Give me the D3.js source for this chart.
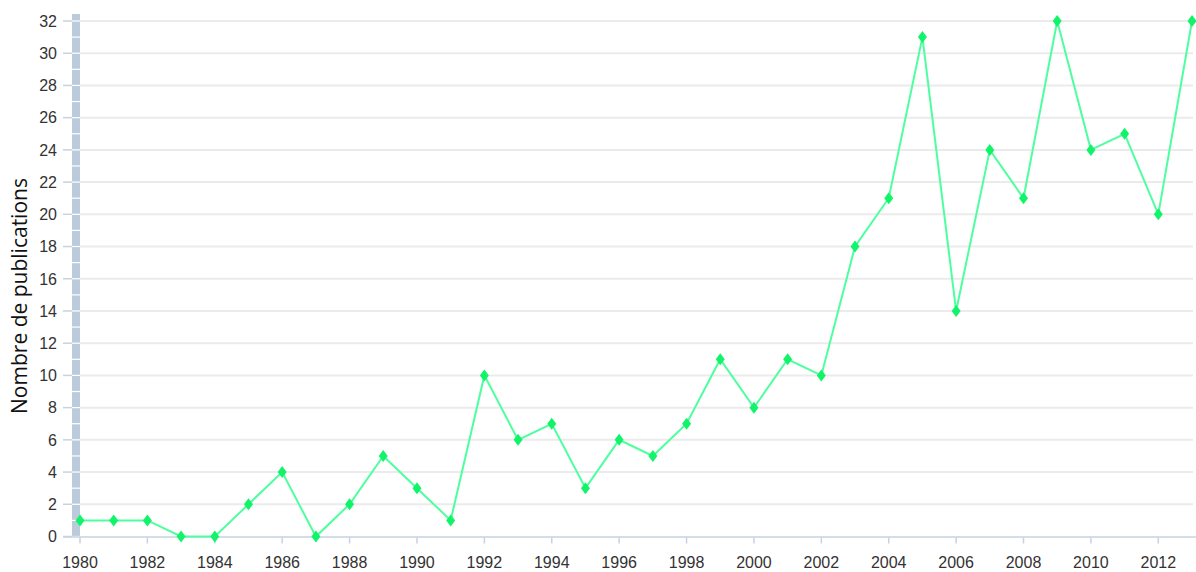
<!DOCTYPE html>
<html lang="fr">
<head>
<meta charset="utf-8">
<script src="https://d3js.org/d3.v7.min.js"></script>
<style>
  body { margin: 0; background: #fff; }
  .tick-label { font-family: "Liberation Sans Narrow", "Arial Narrow", sans-serif; font-size: 16px; fill: #333; }
</style>
</head>
<body>
<script>
    var w = 1196, h = 572;

    var years = d3.range(1980, 2014);
    var publications = [1, 1, 1, 0, 0, 2, 4, 0, 2, 5, 3, 1, 10, 6, 7, 3, 6, 5, 7, 11,
                        8, 11, 10, 18, 21, 31, 14, 24, 21, 32, 24, 25, 20, 32];
    var yTicks = d3.range(0, 33, 2);
    var xTicks = d3.range(1980, 2013, 2);
    var yTitle = 'Nombre de publications';

    var data = years.map(function(y, i) { return {year: y, value: publications[i]}; });

    var x = d3.scaleLinear().domain([1980, 2013]).range([80, 1192]);
    var y = d3.scaleLinear().domain([0, 32]).range([536.5, 21]);

    var svg = d3.select('body').append('svg').attr('width', w).attr('height', h);

    // gridlines
    svg.append('g').selectAll('line')
        .data(yTicks.filter(function(d) { return d > 0; }))
        .enter().append('line')
        .attr('x1', 80).attr('x2', 1193)
        .attr('y1', function(d) { return y(d); })
        .attr('y2', function(d) { return y(d); })
        .attr('stroke', '#ebebeb')
        .attr('stroke-width', 2);

    // thick segmented left axis bar
    svg.append('rect')
        .attr('x', 72).attr('y', y(32) - 7)
        .attr('width', 8).attr('height', y(0) - y(32) + 7)
        .attr('fill', '#bccbdc');
    svg.append('g').selectAll('line')
        .data(d3.range(0, 33))
        .enter().append('line')
        .attr('x1', 72).attr('x2', 80)
        .attr('y1', function(d) { return y(d); })
        .attr('y2', function(d) { return y(d); })
        .attr('stroke', '#fff')
        .attr('stroke-width', 1.2);

    // y axis ticks and labels
    var yAxis = svg.append('g');
    yAxis.selectAll('line')
        .data(yTicks)
        .enter().append('line')
        .attr('x1', 63).attr('x2', 72)
        .attr('y1', function(d) { return y(d); })
        .attr('y2', function(d) { return y(d); })
        .attr('stroke', '#c6d3e2')
        .attr('stroke-width', 1.5);
    yAxis.selectAll('text')
        .data(yTicks)
        .enter().append('text')
        .attr('class', 'tick-label')
        .attr('x', 57)
        .attr('y', function(d) { return y(d); })
        .attr('dy', '.36em')
        .attr('text-anchor', 'end')
        .text(function(d) { return d; });

    // x axis
    var xAxis = svg.append('g');
    xAxis.append('line')
        .attr('x1', 63).attr('x2', 1196)
        .attr('y1', y(0) + 0.5).attr('y2', y(0) + 0.5)
        .attr('stroke', '#c6d3e2')
        .attr('stroke-width', 1.5);
    xAxis.selectAll('line.t')
        .data(xTicks)
        .enter().append('line')
        .attr('class', 't')
        .attr('x1', function(d) { return x(d); })
        .attr('x2', function(d) { return x(d); })
        .attr('y1', y(0) + 1).attr('y2', y(0) + 7)
        .attr('stroke', '#c6d3e2')
        .attr('stroke-width', 1.5);
    xAxis.selectAll('text')
        .data(xTicks)
        .enter().append('text')
        .attr('class', 'tick-label')
        .attr('x', function(d) { return x(d); })
        .attr('y', 568)
        .attr('text-anchor', 'middle')
        .text(function(d) { return d; });

    // y title
    svg.append('text')
        .attr('transform', 'translate(27,296) rotate(-90)')
        .attr('text-anchor', 'middle')
        .attr('font-family', '"Open Sans", sans-serif')
        .attr('font-size', '21px')
        .attr('fill', '#111')
        .text(yTitle);

    // line
    var lineFun = d3.line()
        .x(function(d) { return x(d.year); })
        .y(function(d) { return y(d.value); });

    svg.append('path')
        .attr('d', lineFun(data))
        .attr('fill', 'none')
        .attr('stroke', '#4dff9e')
        .attr('stroke-width', 2);

    // diamond markers
    svg.append('g').selectAll('path')
        .data(data)
        .enter().append('path')
        .attr('transform', function(d) { return 'translate(' + x(d.year) + ',' + y(d.value) + ')'; })
        .attr('d', 'M0,-6L4.5,0L0,6L-4.5,0Z')
        .attr('fill', '#11f46a');
</script>
</body>
</html>
